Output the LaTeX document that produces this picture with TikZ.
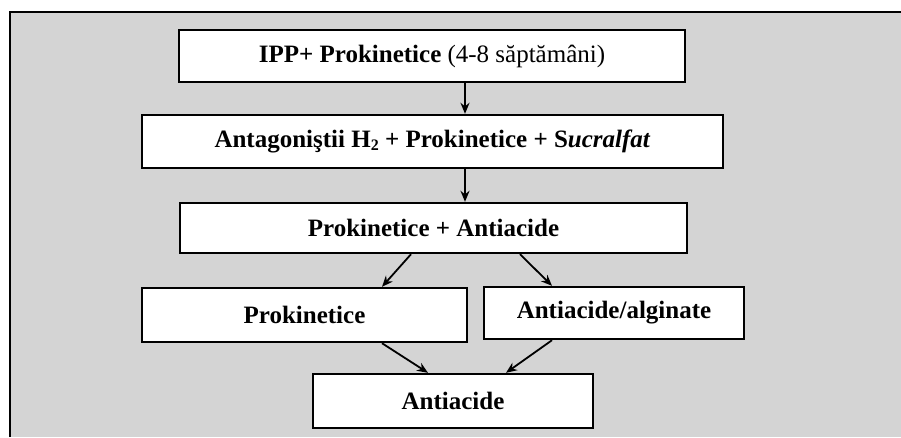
\documentclass[tikz,border=0pt]{standalone}
\usepackage{fontspec}
\setmainfont{Liberation Serif}
\usetikzlibrary{calc,arrows.meta}
\definecolor{bggray}{HTML}{D4D4D4}
\tikzset{
  box/.style={draw=black, fill=white, line width=2.4pt, inner sep=0pt, align=center,
    font=\fontsize{25}{28}\selectfont\bfseries},
  arr/.style={draw=black, line width=1.8pt, -{Stealth[length=11pt,width=9pt]}}
}
\begin{document}
\begin{tikzpicture}[x=1pt,y=-1pt]
\useasboundingbox (0,0) rectangle (901,437);
\fill[white] (0,0) rectangle (901,437);
\fill[bggray] (10,12) rectangle (901,437);
\draw[line width=2.4pt] (10,437) -- (10,12) -- (901,12);
\node[box, minimum width=506pt, minimum height=52pt] (b1) at (432,56)
  {IPP+ Prokinetice \mdseries(4-8 săptămâni)};
\node[box, minimum width=581pt, minimum height=53pt] (b2) at (432.5,141.5)
  {Antagoniştii H{\fontsize{16}{16}\selectfont\raisebox{-3pt}{2}} + Prokinetice + S\textit{ucralfat}};
\node[box, minimum width=507pt, minimum height=50pt] (b3) at (433.5,228)
  {Prokinetice + Antiacide};
\node[box, minimum width=325pt, minimum height=54pt] (b4) at (304.5,315)
  {Prokinetice};
\node[box, minimum width=260pt, minimum height=52pt] (b5) at (614,313)
  {Antiacide/alginate};
\node[box, minimum width=280pt, minimum height=54pt] (b6) at (453,401)
  {Antiacide};
\draw[arr] ($(b1.south)+(33,0)$) -- ($(b2.north)+(32.5,0)$);
\draw[arr] ($(b2.south)+(32.5,0)$) -- ($(b3.north)+(31.5,0)$);
\draw[arr] ($(b3.south)+(-22.5,0)$) -- ($(b4.north)+(77.5,0)$);
\draw[arr] ($(b3.south)+(86.5,0)$) -- ($(b5.north)+(-62,0)$);
\draw[arr] ($(b4.south)+(77.5,0)$) -- ($(b6.north)+(-25,0)$);
\draw[arr] ($(b5.south)+(-62,0)$) -- ($(b6.north)+(53,0)$);
\end{tikzpicture}
\end{document}
